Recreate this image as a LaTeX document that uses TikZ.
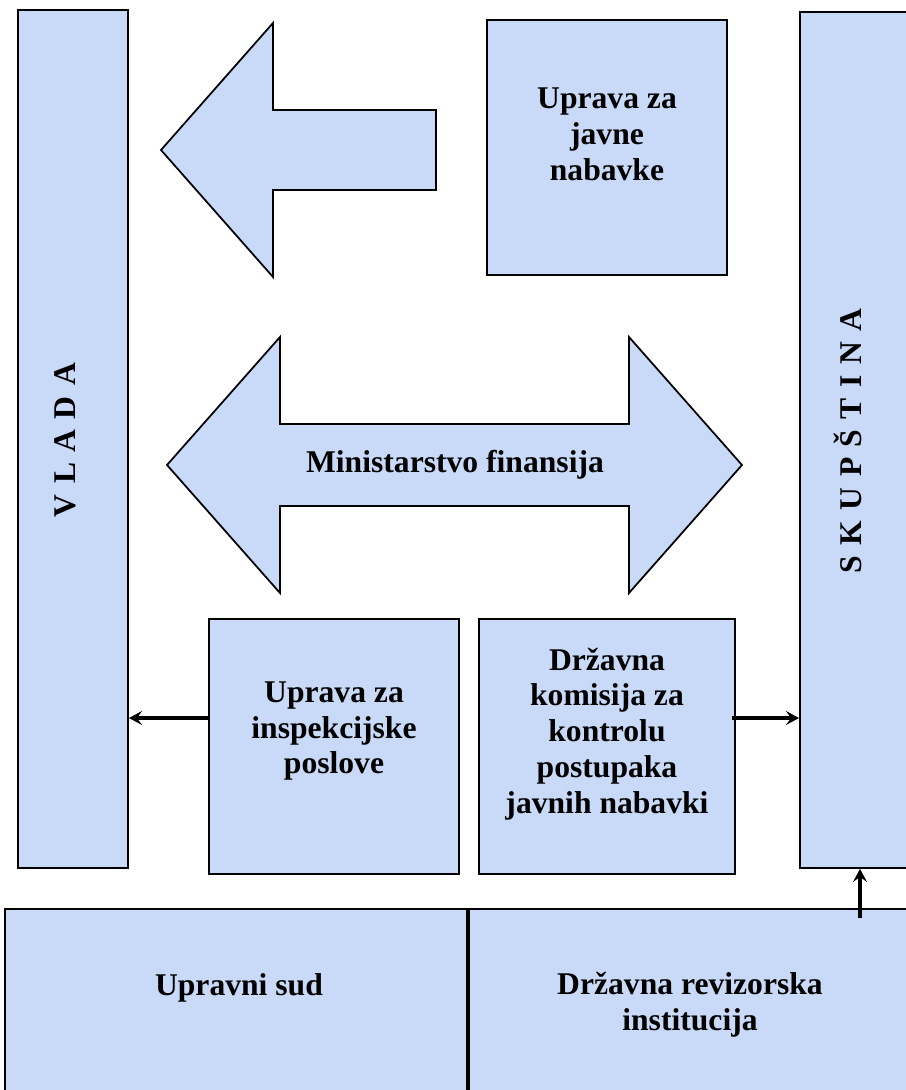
\documentclass[tikz,border=0pt]{standalone}
\usepackage{fontspec}
\setmainfont{Liberation Serif}
\usetikzlibrary{calc}
\usetikzlibrary{arrows.meta, positioning}
\definecolor{plava}{RGB}{201,218,248}
\newcommand{\rz}{\hspace{0.33em}}

\begin{document}
\begin{tikzpicture}[x=0.02cm, y=0.02cm,
    kutija/.style={rectangle, draw, fill=plava, line width=1.1pt, inner sep=0pt},
    tekst/.style={font=\bfseries\fontsize{18}{20.4}\selectfont, align=center},
    blok/.style={draw, fill=plava, line width=1pt, line join=miter},
    veza/.style={line width=2.2pt, -{Stealth[length=7.5pt, width=8pt, inset=3pt]}}]
    \path[use as bounding box, clip] (0,0) rectangle (906,-1090);
    \node[kutija, minimum width=2.2cm, minimum height=17.16cm] (vlada) at (73,-439) {};
    \node[kutija, minimum width=2.2cm, minimum height=17.12cm] (skup) at (855,-440) {};
    \node[kutija, minimum width=4.8cm, minimum height=5.1cm] (javne) at (607,-147.5) {};
    \node[kutija, minimum width=5cm, minimum height=5.1cm] (insp) at (334,-746.5) {};
    \node[kutija, minimum width=5.12cm, minimum height=5.1cm] (kom) at (607,-746.5) {};
    \node[kutija, minimum width=9.24cm, minimum height=4cm] (sud) at (236,-1009) {};
    \node[kutija, minimum width=8.84cm, minimum height=4cm] (rev) at (690,-1009) {};
    % strelice
    \draw[blok] (436,-110) -- (273,-110) -- (273,-23) -- (161,-150) -- (273,-277) -- (273,-190) -- (436,-190) -- cycle;
    \draw[blok] (167,-465) -- (280,-337) -- (280,-424) -- (629,-424) -- (629,-337) -- (742,-465)
        -- (629,-593) -- (629,-506) -- (280,-506) -- (280,-593) -- cycle;
    % tekstovi
    \node[tekst, rotate=90] (vladaT) at (65,-440) {V\rz L\rz A\rz D\rz A};
    \node[tekst, rotate=90] (skupT) at (848,-441) {S\rz K\rz U\rz P\rz Š\rz T\rz I\rz N\rz A};
    \node[tekst] (javneT) at (607,-134) {Uprava za\\javne\\nabavke};
    \node[tekst] (mf) at (455,-465) {Ministarstvo finansija};
    \node[tekst] (inspT) at (334,-731) {Uprava za\\inspekcijske\\poslove};
    \node[tekst] (komT) at (607,-734) {Državna\\komisija za\\kontrolu\\postupaka\\javnih nabavki};
    \node[tekst] (sudT) at (239,-988) {Upravni sud};
    \node[tekst] (revT) at (690,-1005) {Državna revizorska\\institucija};
    % veze
    \coordinate (nivo) at (0,-718);
    \coordinate (kol) at (860,0);
    \draw[veza] (insp.west |- nivo) -- (vlada.east |- nivo);
    \draw[veza] ($(kom.east |- nivo)+(-4,0)$) -- (skup.west |- nivo);
    \draw[veza] ($(rev.north -| kol)+(0,-10)$) -- (skup.south -| kol);
\end{tikzpicture}
\end{document}
